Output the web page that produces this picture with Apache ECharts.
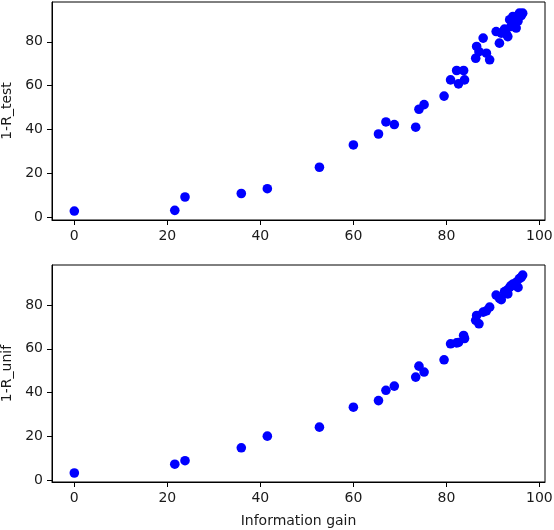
<!DOCTYPE html>
<html>
<head>
<meta charset="utf-8">
<script src="https://cdn.jsdelivr.net/npm/echarts@6/dist/echarts.min.js"></script>
<style>
  html, body { margin: 0; padding: 0; background: #fff; }
  #chart { width: 554px; height: 530px; }
</style>
</head>
<body>
<div id="chart"></div>
<script>
// information gain (shared x values of both panels)
var infoGain = [0.0, 21.6, 23.8, 35.9, 41.5, 52.7, 60.0, 65.4, 67.0, 68.8,
    73.4, 74.1, 75.2, 79.5, 80.9, 82.2, 82.6, 83.7, 83.9,
    86.3, 86.5, 87.0, 87.9, 88.6, 89.3, 90.7, 91.4, 91.8, 92.5,
    92.9, 93.2, 93.6, 93.9, 94.3, 94.6, 95.0, 95.4, 95.7, 96.1, 96.4];
// 1-R_test (top panel)
var rTest = [2.7, 3.0, 9.1, 10.7, 12.9, 22.7, 32.9, 37.9, 43.4, 42.2,
    41.0, 49.2, 51.3, 55.2, 62.6, 66.9, 60.8, 66.9, 62.6,
    72.5, 77.9, 75.5, 81.7, 74.8, 71.8, 84.7, 79.4, 84.0, 85.8,
    83.5, 82.4, 90.1, 87.0, 91.6, 88.5, 86.3, 89.5, 93.1, 92.0, 93.1];
// 1-R_unif (bottom panel)
var rUnif = [3.4, 7.4, 9.0, 14.9, 20.2, 24.3, 33.4, 36.4, 41.1, 43.0,
    47.1, 52.1, 49.4, 55.0, 62.3, 62.7, 62.9, 66.1, 64.7,
    73.0, 75.2, 71.4, 76.7, 77.3, 79.0, 84.5, 83.0, 82.4, 86.0,
    86.5, 85.0, 88.0, 88.8, 89.5, 89.0, 90.3, 88.0, 92.0, 92.6, 93.6];

var xTicks = [0, 20, 40, 60, 80, 100];
var yTicks = [0, 20, 40, 60, 80];

function pairs(xs, ys) {
    return xs.map(function (x, i) { return [x, ys[i]]; });
}

var font = 'DejaVu Sans';
var tickColor = '#1a1a1a';

function xAxisOpt(idx, name) {
    return {
        type: 'value', gridIndex: idx, min: -4.8, max: 101.2,
        name: name, nameLocation: 'middle', nameGap: 32,
        nameTextStyle: {fontFamily: font, fontSize: 14, color: tickColor},
        axisLine: {onZero: false, lineStyle: {color: '#000', width: 1}},
        axisTick: {show: true, inside: false, length: 5, lineStyle: {color: '#000'}, customValues: xTicks},
        axisLabel: {fontFamily: font, fontSize: 14, color: tickColor, margin: 9, customValues: xTicks},
        splitLine: {show: false}
    };
}

function yAxisOpt(idx, name, min) {
    return {
        type: 'value', gridIndex: idx, min: min, max: 98.2,
        name: name, nameLocation: 'middle', nameGap: 34, nameRotate: 90,
        nameTextStyle: {fontFamily: font, fontSize: 14, color: tickColor},
        axisLine: {onZero: false, lineStyle: {color: '#000', width: 1}},
        axisTick: {show: true, inside: false, length: 5, lineStyle: {color: '#000'}, customValues: yTicks},
        axisLabel: {fontFamily: font, fontSize: 14, color: tickColor, margin: 9, customValues: yTicks},
        splitLine: {show: false}
    };
}

var myChart = echarts.init(document.getElementById('chart'), null, {renderer: 'canvas'});

var option = {
    animation: false,
    backgroundColor: '#fff',
    grid: [
        {left: 52, right: 9, top: 2, height: 218, show: true, borderColor: '#000', borderWidth: 1,
            containLabel: false, outerBoundsMode: 'none'},
        {left: 52, right: 9, top: 265, height: 217, show: true, borderColor: '#000', borderWidth: 1,
            containLabel: false, outerBoundsMode: 'none'}
    ],
    xAxis: [xAxisOpt(0, ''), xAxisOpt(1, 'Information gain')],
    yAxis: [yAxisOpt(0, '1-R_test', -1.4), yAxisOpt(1, '1-R_unif', -0.7)],
    series: [
        {
            type: 'scatter', xAxisIndex: 0, yAxisIndex: 0,
            data: pairs(infoGain, rTest),
            symbolSize: 9.6,
            itemStyle: {color: '#0000ff', opacity: 1}
        },
        {
            type: 'scatter', xAxisIndex: 1, yAxisIndex: 1,
            data: pairs(infoGain, rUnif),
            symbolSize: 9.6,
            itemStyle: {color: '#0000ff', opacity: 1}
        }
    ]
};

myChart.setOption(option);
</script>
</body>
</html>
